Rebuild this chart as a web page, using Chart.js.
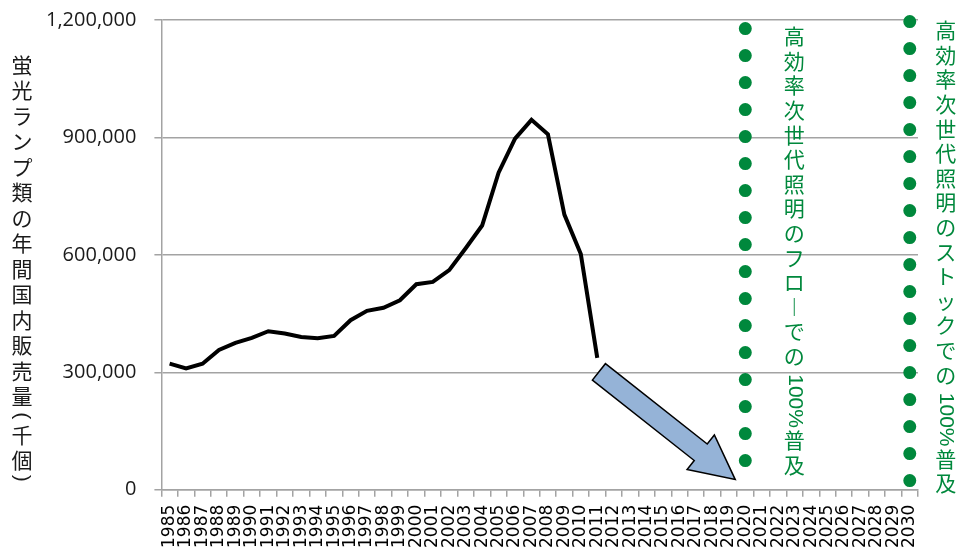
<!DOCTYPE html>
<html lang="ja">
<head>
<meta charset="utf-8">
<title>蛍光ランプ類の年間国内販売量</title>
<script src="https://cdn.jsdelivr.net/npm/chart.js@4.4.1/dist/chart.umd.min.js"></script>
<style>
  html, body { margin: 0; padding: 0; background: #fff; overflow: hidden; }
  #wrap { width: 959px; height: 549px; overflow: hidden; }
</style>
</head>
<body>
<div id="wrap"><canvas id="grafico" width="959" height="556"></canvas></div>
<script>
// eixo x: anos
const years = [
  '1985', '1986', '1987', '1988', '1989', '1990', '1991', '1992', '1993', '1994',
  '1995', '1996', '1997', '1998', '1999', '2000', '2001', '2002', '2003', '2004',
  '2005', '2006', '2007', '2008', '2009', '2010', '2011', '2012', '2013', '2014',
  '2015', '2016', '2017', '2018', '2019', '2020', '2021', '2022', '2023', '2024',
  '2025', '2026', '2027', '2028', '2029', '2030'
];

// vendas anuais (mil unidades), 1985-2011
const salesValues = [
  322000, 310000, 322000, 357000, 375000, 388000, 405000, 399000, 390000, 387000,
  393000, 433000, 457000, 465000, 484000, 525000, 531000, 561000, 617000, 675000,
  810000, 897000, 945000, 908000, 703000, 602000, 337000
];

// eixo y
const yTicks = [0, 300000, 600000, 900000, 1200000];

// linhas pontilhadas verdes (ano + faixa de valores, de cima para baixo)
const flowYear = '2020';
const flowRange = [1178000, 68000];
const stockYear = '2030';
const stockRange = [1196000, 16500];

// seta azul: índice da categoria + valor
const arrowTail = [26.1, 301000];
const arrowTip = [34.39, 26000];

// textos (trecho, girado?, espaço reservado)
const yTitle = [['蛍光ランプ類の年間国内販売量', false], ['(', true, 13], ['千個', false], [')', true, 10]];
const flowNote = [['高効率次世代照明のフロ︱での', false], [' 100%', true], ['普及', false]];
const stockNote = [['高効率次世代照明のストックでの', false], [' 100%', true], ['普及', false]];

const VERDE = '#00883c';
const CINZA = '#a3a3a3';
const JP = "'Noto Sans CJK JP', sans-serif";
const LATIN = "'Liberation Sans', sans-serif";

// escreve texto vertical: ideogramas em pé, trechos latinos girados 90°
function textoVertical(ctx, partes, x, yTopo, passo, tam, cor) {
  ctx.save();
  ctx.fillStyle = cor;
  let y = yTopo;
  partes.forEach(([txt, girar, espaco]) => {
    if (girar) {
      ctx.font = `${tam}px ${LATIN}`;
      const w = ctx.measureText(txt).width;
      const slot = Math.max(w, espaco || 0);
      ctx.save();
      ctx.translate(x, y + (slot - w) / 2);
      ctx.rotate(Math.PI / 2);
      ctx.textAlign = 'left';
      ctx.textBaseline = 'middle';
      ctx.fillText(txt, 0, 0);
      ctx.restore();
      y += slot;
    } else {
      ctx.font = `${tam}px ${JP}`;
      ctx.textAlign = 'center';
      ctx.textBaseline = 'middle';
      for (const ch of txt) {
        ctx.fillText(ch, x, y + passo / 2);
        y += passo;
      }
    }
  });
  ctx.restore();
}

const anotacoes = {
  id: 'anotacoes',
  afterDatasetsDraw(chart) {
    const { ctx, scales: { x, y } } = chart;

    // seta
    const x0 = x.getPixelForValue(arrowTail[0]), y0 = y.getPixelForValue(arrowTail[1]);
    const x1 = x.getPixelForValue(arrowTip[0]), y1 = y.getPixelForValue(arrowTip[1]);
    const len = Math.hypot(x1 - x0, y1 - y0);
    const ux = (x1 - x0) / len, uy = (y1 - y0) / len;
    const nx = -uy, ny = ux;
    const haste = 10.5, cabeca = 22, compCabeca = 44;
    const px = x1 - ux * compCabeca, py = y1 - uy * compCabeca;
    ctx.save();
    ctx.beginPath();
    ctx.moveTo(x0 + nx * haste, y0 + ny * haste);
    ctx.lineTo(px + nx * haste, py + ny * haste);
    ctx.lineTo(px + nx * cabeca, py + ny * cabeca);
    ctx.lineTo(x1, y1);
    ctx.lineTo(px - nx * cabeca, py - ny * cabeca);
    ctx.lineTo(px - nx * haste, py - ny * haste);
    ctx.lineTo(x0 - nx * haste, y0 - ny * haste);
    ctx.closePath();
    ctx.fillStyle = '#95b3d7';
    ctx.fill();
    ctx.lineWidth = 1.5;
    ctx.lineJoin = 'miter';
    ctx.strokeStyle = '#000';
    ctx.stroke();
    ctx.restore();
  },
  afterDraw(chart) {
    const { ctx, chartArea, scales: { x } } = chart;
    // título do eixo y
    textoVertical(ctx, yTitle, 22, 65 - 12.75, 25.5, 21, '#1a1a1a');
    // notas verdes
    const xFlow = x.getPixelForValue(flowYear) + 49;
    const xStock = x.getPixelForValue(stockYear) + 36;
    textoVertical(ctx, flowNote, xFlow, chartArea.top + 4, 24.6, 21, VERDE);
    textoVertical(ctx, stockNote, xStock, chartArea.top - 2, 24.6, 21, VERDE);
  }
};

const pontilhado = (ano, faixa) => ({
  data: faixa.map(v => ({ x: ano, y: v })),
  borderColor: VERDE,
  borderWidth: 13,
  borderDash: [0.01, 26.99],
  borderCapStyle: 'round',
  pointRadius: 0,
  clip: false,
  order: 2
});

new Chart(document.getElementById('grafico'), {
  type: 'line',
  data: {
    labels: years,
    datasets: [
      {
        data: salesValues,
        borderColor: '#000',
        borderWidth: 4,
        borderJoinStyle: 'miter',
        pointRadius: 0,
        tension: 0,
        order: 1
      },
      pontilhado(flowYear, flowRange),
      pontilhado(stockYear, stockRange)
    ]
  },
  options: {
    responsive: false,
    animation: false,
    layout: { padding: { left: 28, right: 41, top: 20, bottom: 0 } },
    plugins: { legend: { display: false }, tooltip: { enabled: false } },
    scales: {
      x: {
        type: 'category',
        offset: true,
        grid: { drawOnChartArea: false, color: CINZA, lineWidth: 1.5, tickLength: 7, offset: true },
        border: { color: CINZA, width: 1.5 },
        ticks: {
          autoSkip: false,
          minRotation: 90,
          maxRotation: 90,
          padding: 8,
          color: '#000',
          font: { family: "'DejaVu Sans', sans-serif", size: 17 }
        }
      },
      y: {
        min: yTicks[0],
        max: yTicks[yTicks.length - 1],
        afterBuildTicks: axis => { axis.ticks = yTicks.map(v => ({ value: v })); },
        // o rótulo do topo não precisa de folga extra
        afterFit: axis => { axis.paddingTop = 0; axis.paddingBottom = 0; },
        grid: { color: CINZA, lineWidth: 1.5, tickLength: 7 },
        border: { color: CINZA, width: 1.5 },
        ticks: {
          padding: 18,
          color: '#1a1a1a',
          font: { family: "'Open Sans', sans-serif", size: 20 },
          callback: v => v.toLocaleString('en-US')
        }
      }
    }
  },
  plugins: [anotacoes]
});
</script>
</body>
</html>
